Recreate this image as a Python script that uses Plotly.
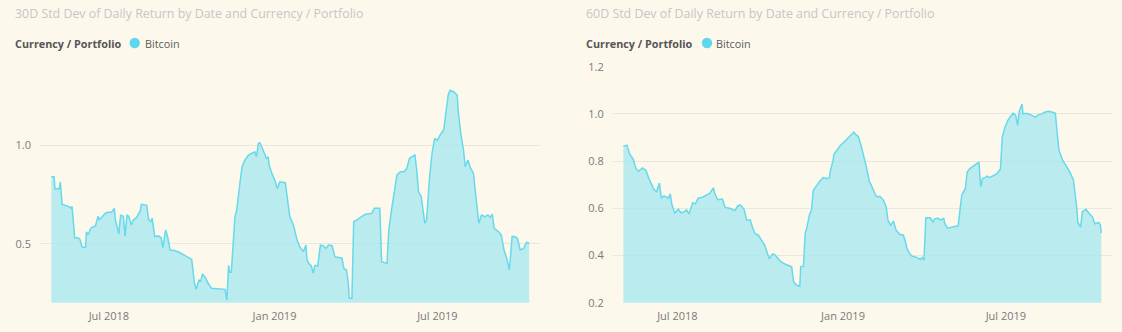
import plotly.graph_objects as go

# 30-day rolling standard deviation of daily Bitcoin returns
dates_30d = [
    "2018-04-28", "2018-05-01", "2018-05-02", "2018-05-07", "2018-05-08", "2018-05-10",
    "2018-05-17", "2018-05-20", "2018-05-21", "2018-05-23", "2018-05-24", "2018-05-28",
    "2018-05-30", "2018-06-01", "2018-06-05", "2018-06-06", "2018-06-08", "2018-06-11",
    "2018-06-16", "2018-06-19", "2018-06-20", "2018-06-23", "2018-06-27", "2018-06-30",
    "2018-07-04", "2018-07-07", "2018-07-08", "2018-07-11", "2018-07-12", "2018-07-14",
    "2018-07-17", "2018-07-19", "2018-07-21", "2018-07-23", "2018-07-26", "2018-07-28",
    "2018-08-01", "2018-08-05", "2018-08-06", "2018-08-12", "2018-08-14", "2018-08-17",
    "2018-08-18", "2018-08-21", "2018-08-25", "2018-08-28", "2018-08-30", "2018-09-02",
    "2018-09-04", "2018-09-07", "2018-09-12", "2018-09-18", "2018-09-24", "2018-09-29",
    "2018-10-01", "2018-10-04", "2018-10-06", "2018-10-09", "2018-10-11", "2018-10-13",
    "2018-10-16", "2018-10-19", "2018-10-23", "2018-11-07", "2018-11-09", "2018-11-11",
    "2018-11-12", "2018-11-14", "2018-11-16", "2018-11-18", "2018-11-20", "2018-11-22",
    "2018-11-24", "2018-11-26", "2018-11-29", "2018-12-03", "2018-12-07", "2018-12-10",
    "2018-12-12", "2018-12-14", "2018-12-16", "2018-12-19", "2018-12-21", "2018-12-23",
    "2018-12-25", "2018-12-26", "2018-12-29", "2019-01-02", "2019-01-04", "2019-01-07",
    "2019-01-13", "2019-01-15", "2019-01-18", "2019-01-22", "2019-01-26", "2019-01-29",
    "2019-02-02", "2019-02-05", "2019-02-06", "2019-02-08", "2019-02-11", "2019-02-13",
    "2019-02-15", "2019-02-18", "2019-02-21", "2019-02-24", "2019-02-27", "2019-03-02",
    "2019-03-06", "2019-03-09", "2019-03-17", "2019-03-19", "2019-03-22", "2019-03-24",
    "2019-03-25", "2019-03-28", "2019-03-30", "2019-04-02", "2019-04-08", "2019-04-12",
    "2019-04-19", "2019-04-22", "2019-04-28", "2019-04-30", "2019-05-06", "2019-05-07",
    "2019-05-08", "2019-05-11", "2019-05-14", "2019-05-17", "2019-05-21", "2019-05-25",
    "2019-05-28", "2019-05-31", "2019-06-06", "2019-06-08", "2019-06-10", "2019-06-13",
    "2019-06-14", "2019-06-17", "2019-06-19", "2019-06-22", "2019-06-25", "2019-06-28",
    "2019-07-01", "2019-07-04", "2019-07-08", "2019-07-10", "2019-07-13", "2019-07-15",
    "2019-07-19", "2019-07-23", "2019-07-24", "2019-07-27", "2019-07-30", "2019-08-01",
    "2019-08-04", "2019-08-07", "2019-08-10", "2019-08-14", "2019-08-16", "2019-08-19",
    "2019-08-23", "2019-08-26", "2019-08-29", "2019-08-31", "2019-09-02", "2019-09-07",
    "2019-09-10", "2019-09-13", "2019-09-16", "2019-09-19", "2019-09-22", "2019-09-25",
    "2019-09-28", "2019-10-01", "2019-10-05", "2019-10-08", "2019-10-11",
]
std_30d = [
    0.84, 0.84, 0.78, 0.78, 0.815, 0.70,
    0.69, 0.68, 0.69, 0.57, 0.53, 0.53,
    0.52, 0.485, 0.48, 0.56, 0.545, 0.58,
    0.59, 0.64, 0.62, 0.635, 0.655, 0.66,
    0.66, 0.68, 0.625, 0.57, 0.55, 0.645,
    0.64, 0.54, 0.645, 0.64, 0.595, 0.62,
    0.635, 0.67, 0.70, 0.695, 0.625, 0.61,
    0.63, 0.535, 0.54, 0.53, 0.48, 0.57,
    0.54, 0.468, 0.465, 0.454, 0.44, 0.426,
    0.42, 0.30, 0.268, 0.315, 0.31, 0.346,
    0.33, 0.30, 0.273, 0.268, 0.214, 0.39,
    0.355, 0.355, 0.50, 0.637, 0.67, 0.756,
    0.824, 0.891, 0.925, 0.95, 0.959, 0.967,
    0.942, 1.01, 1.013, 0.976, 0.959, 0.934,
    0.942, 0.90, 0.858, 0.815, 0.78, 0.815,
    0.81, 0.74, 0.637, 0.595, 0.52, 0.485,
    0.46, 0.493, 0.42, 0.40, 0.386, 0.35,
    0.39, 0.386, 0.493, 0.49, 0.476, 0.493,
    0.49, 0.434, 0.426, 0.375, 0.366, 0.30,
    0.222, 0.222, 0.612, 0.62, 0.64, 0.65,
    0.654, 0.68, 0.68, 0.408, 0.40, 0.485,
    0.57, 0.671, 0.756, 0.85, 0.866, 0.866,
    0.883, 0.934, 0.951, 0.875, 0.764, 0.739,
    0.705, 0.604, 0.62, 0.824, 0.96, 1.036,
    1.024, 1.053, 1.078, 1.163, 1.256, 1.28,
    1.273, 1.256, 1.18, 1.06, 0.976, 0.891,
    0.925, 0.883, 0.858, 0.688, 0.604, 0.646,
    0.637, 0.646, 0.634, 0.651, 0.578, 0.561,
    0.544, 0.468, 0.426, 0.366, 0.536, 0.536,
    0.527, 0.468, 0.476, 0.507, 0.502,
]

# 60-day rolling standard deviation of daily Bitcoin returns
dates_60d = [
    "2018-05-02", "2018-05-06", "2018-05-09", "2018-05-13", "2018-05-16", "2018-05-19",
    "2018-05-23", "2018-05-27", "2018-05-30", "2018-06-02", "2018-06-05", "2018-06-08",
    "2018-06-11", "2018-06-13", "2018-06-16", "2018-06-21", "2018-06-23", "2018-06-25",
    "2018-06-28", "2018-07-02", "2018-07-05", "2018-07-09", "2018-07-11", "2018-07-14",
    "2018-07-18", "2018-07-21", "2018-07-24", "2018-07-29", "2018-08-01", "2018-08-06",
    "2018-08-10", "2018-08-12", "2018-08-15", "2018-08-20", "2018-08-23", "2018-08-28",
    "2018-09-03", "2018-09-06", "2018-09-09", "2018-09-13", "2018-09-16", "2018-09-20",
    "2018-09-22", "2018-09-25", "2018-09-29", "2018-10-03", "2018-10-06", "2018-10-08",
    "2018-10-11", "2018-10-15", "2018-10-17", "2018-10-21", "2018-10-23", "2018-10-27",
    "2018-11-01", "2018-11-05", "2018-11-07", "2018-11-10", "2018-11-14", "2018-11-15",
    "2018-11-18", "2018-11-20", "2018-11-22", "2018-11-25", "2018-11-27", "2018-11-29",
    "2018-12-03", "2018-12-06", "2018-12-10", "2018-12-14", "2018-12-17", "2018-12-18",
    "2018-12-21", "2018-12-22", "2018-12-25", "2018-12-29", "2019-01-02", "2019-01-07",
    "2019-01-11", "2019-01-13", "2019-01-15", "2019-01-18", "2019-01-21", "2019-01-24",
    "2019-01-27", "2019-01-30", "2019-02-02", "2019-02-06", "2019-02-08", "2019-02-11",
    "2019-02-15", "2019-02-18", "2019-02-20", "2019-02-23", "2019-02-26", "2019-03-01",
    "2019-03-05", "2019-03-09", "2019-03-11", "2019-03-13", "2019-03-16", "2019-03-19",
    "2019-03-24", "2019-03-28", "2019-03-30", "2019-04-01", "2019-04-03", "2019-04-08",
    "2019-04-11", "2019-04-13", "2019-04-17", "2019-04-19", "2019-04-23", "2019-04-24",
    "2019-04-27", "2019-05-02", "2019-05-05", "2019-05-09", "2019-05-11", "2019-05-13",
    "2019-05-17", "2019-05-19", "2019-05-22", "2019-05-26", "2019-05-29", "2019-06-01",
    "2019-06-03", "2019-06-05", "2019-06-08", "2019-06-10", "2019-06-13", "2019-06-17",
    "2019-06-21", "2019-06-24", "2019-06-25", "2019-06-27", "2019-06-30", "2019-07-03",
    "2019-07-06", "2019-07-09", "2019-07-12", "2019-07-14", "2019-07-16", "2019-07-19",
    "2019-07-20", "2019-07-24", "2019-07-28", "2019-07-31", "2019-08-03", "2019-08-06",
    "2019-08-10", "2019-08-13", "2019-08-17", "2019-08-21", "2019-08-25", "2019-08-26",
    "2019-08-29", "2019-09-02", "2019-09-07", "2019-09-10", "2019-09-14", "2019-09-16",
    "2019-09-18", "2019-09-19", "2019-09-22", "2019-09-24", "2019-09-28", "2019-10-02",
    "2019-10-05", "2019-10-08", "2019-10-12", "2019-10-14", "2019-10-15",
]
std_60d = [
    0.864, 0.867, 0.829, 0.807, 0.767, 0.757,
    0.771, 0.761, 0.729, 0.707, 0.679, 0.671,
    0.707, 0.643, 0.653, 0.643, 0.661, 0.614,
    0.579, 0.596, 0.581, 0.586, 0.593, 0.576,
    0.624, 0.619, 0.643, 0.647, 0.653, 0.664,
    0.686, 0.657, 0.636, 0.639, 0.604, 0.600,
    0.590, 0.610, 0.614, 0.596, 0.550, 0.550,
    0.524, 0.493, 0.486, 0.464, 0.443, 0.421,
    0.386, 0.407, 0.404, 0.386, 0.377, 0.366,
    0.359, 0.352, 0.289, 0.275, 0.270, 0.352,
    0.355, 0.493, 0.521, 0.577, 0.592, 0.676,
    0.697, 0.714, 0.730, 0.725, 0.730, 0.760,
    0.803, 0.830, 0.845, 0.866, 0.880, 0.899,
    0.915, 0.923, 0.913, 0.904, 0.866, 0.824,
    0.775, 0.718, 0.690, 0.658, 0.648, 0.651,
    0.634, 0.606, 0.549, 0.528, 0.546, 0.507,
    0.490, 0.486, 0.465, 0.430, 0.408, 0.397,
    0.392, 0.383, 0.392, 0.380, 0.560, 0.560,
    0.542, 0.556, 0.558, 0.550, 0.557, 0.537,
    0.516, 0.520, 0.523, 0.526, 0.593, 0.656,
    0.684, 0.754, 0.768, 0.778, 0.789, 0.796,
    0.691, 0.726, 0.730, 0.736, 0.730, 0.740,
    0.747, 0.761, 0.768, 0.902, 0.944, 0.972,
    0.986, 1.003, 0.993, 0.951, 1.014, 1.042,
    1.000, 1.003, 0.997, 0.993, 0.986, 0.997,
    1.000, 1.007, 1.011, 1.008, 1.003, 0.958,
    0.846, 0.804, 0.775, 0.754, 0.720, 0.663,
    0.593, 0.540, 0.520, 0.586, 0.596, 0.576,
    0.565, 0.534, 0.540, 0.530, 0.495,
]

assert len(dates_30d) == len(std_30d), (len(dates_30d), len(std_30d))
assert len(dates_60d) == len(std_60d), (len(dates_60d), len(std_60d))

date_tick_vals = ["2018-07-01", "2019-01-01", "2019-07-01"]
date_tick_text = ["Jul 2018", "Jan 2019", "Jul 2019"]

chart_titles = [
    "30D Std Dev of Daily Return by Date and Currency / Portfolio",
    "60D Std Dev of Daily Return by Date and Currency / Portfolio",
]
legend_title = "Currency / Portfolio"
series_name = "Bitcoin"

W, H = 1122, 332
BG = "#FDF8EC"
FILL = "rgba(160,232,240,0.72)"
LINE = "#66D9EB"
DOT = "#5ED6EE"
GRID = "#EBE7DE"
TICK = "#7A7A7A"
FONT = "Open Sans, Noto Sans, sans-serif"


def px_x(p):
    return p / W


def px_y(p):
    return 1 - p / H


fig = go.Figure()
for dates, vals, xa, ya in [(dates_30d, std_30d, "x", "y"), (dates_60d, std_60d, "x2", "y2")]:
    fig.add_trace(go.Scatter(
        x=dates, y=vals, name=series_name, mode="lines",
        fill="tozeroy", fillcolor=FILL,
        line=dict(color=LINE, width=1.5),
        xaxis=xa, yaxis=ya, showlegend=False,
    ))

xaxis_common = dict(
    type="date", tickvals=date_tick_vals, ticktext=date_tick_text,
    showgrid=False, zeroline=False, showline=False, ticks="", automargin=False,
    ticklabelstandoff=5,
    tickfont=dict(family=FONT, size=11, color=TICK),
)
yaxis_common = dict(
    showgrid=True, gridcolor=GRID, gridwidth=1, zeroline=False, showline=False,
    ticks="", tickformat=".1f", ticklabelstandoff=8, automargin=False,
    tickfont=dict(family=FONT, size=11, color=TICK),
)

fig.update_layout(
    width=W, height=H,
    margin=dict(l=0, r=0, t=0, b=0, autoexpand=False),
    paper_bgcolor=BG, plot_bgcolor=BG,
    font=dict(family=FONT),
    xaxis=dict(domain=[px_x(40), px_x(540)], anchor="y",
               range=["2018-04-15 10:00", "2019-10-23 00:00"], **xaxis_common),
    yaxis=dict(domain=[px_y(302.7), px_y(66.7)], anchor="x",
               range=[0.2, 1.4], tickvals=[0.5, 1.0], **yaxis_common),
    xaxis2=dict(domain=[px_x(612.7), px_x(1111.7)], anchor="y2",
                range=["2018-04-20 02:00", "2019-10-26 14:00"], **xaxis_common),
    yaxis2=dict(domain=[px_y(302.7), px_y(66.7)], anchor="x2",
                range=[0.2, 1.2], tickvals=[0.2, 0.4, 0.6, 0.8, 1.0, 1.2], **yaxis_common),
)

# chart headers and legends
for title, tx, lx, dot_cx, name_x in [
    (chart_titles[0], 13, 13, 134.7, 143),
    (chart_titles[1], 584, 584, 707, 714),
]:
    fig.add_annotation(
        text=title, xref="paper", yref="paper", x=px_x(tx), y=px_y(14),
        xanchor="left", yanchor="middle", showarrow=False,
        font=dict(family=FONT, size=12.4, color="#C6C6C6"),
    )
    fig.add_annotation(
        text="<b>" + legend_title + "</b>", xref="paper", yref="paper",
        x=px_x(lx), y=px_y(43), xanchor="left", yanchor="middle", showarrow=False,
        font=dict(family=FONT, size=10.8, color="#555555"),
    )
    fig.add_shape(
        type="circle", xref="paper", yref="paper",
        x0=px_x(dot_cx - 5.2), x1=px_x(dot_cx + 5.2),
        y0=px_y(43 + 5.2), y1=px_y(43 - 5.2),
        fillcolor=DOT, line=dict(width=0),
    )
    fig.add_annotation(
        text=series_name, xref="paper", yref="paper",
        x=px_x(name_x), y=px_y(43), xanchor="left", yanchor="middle", showarrow=False,
        font=dict(family=FONT, size=10.8, color="#5A5A5A"),
    )

fig.write_html("out.html")
